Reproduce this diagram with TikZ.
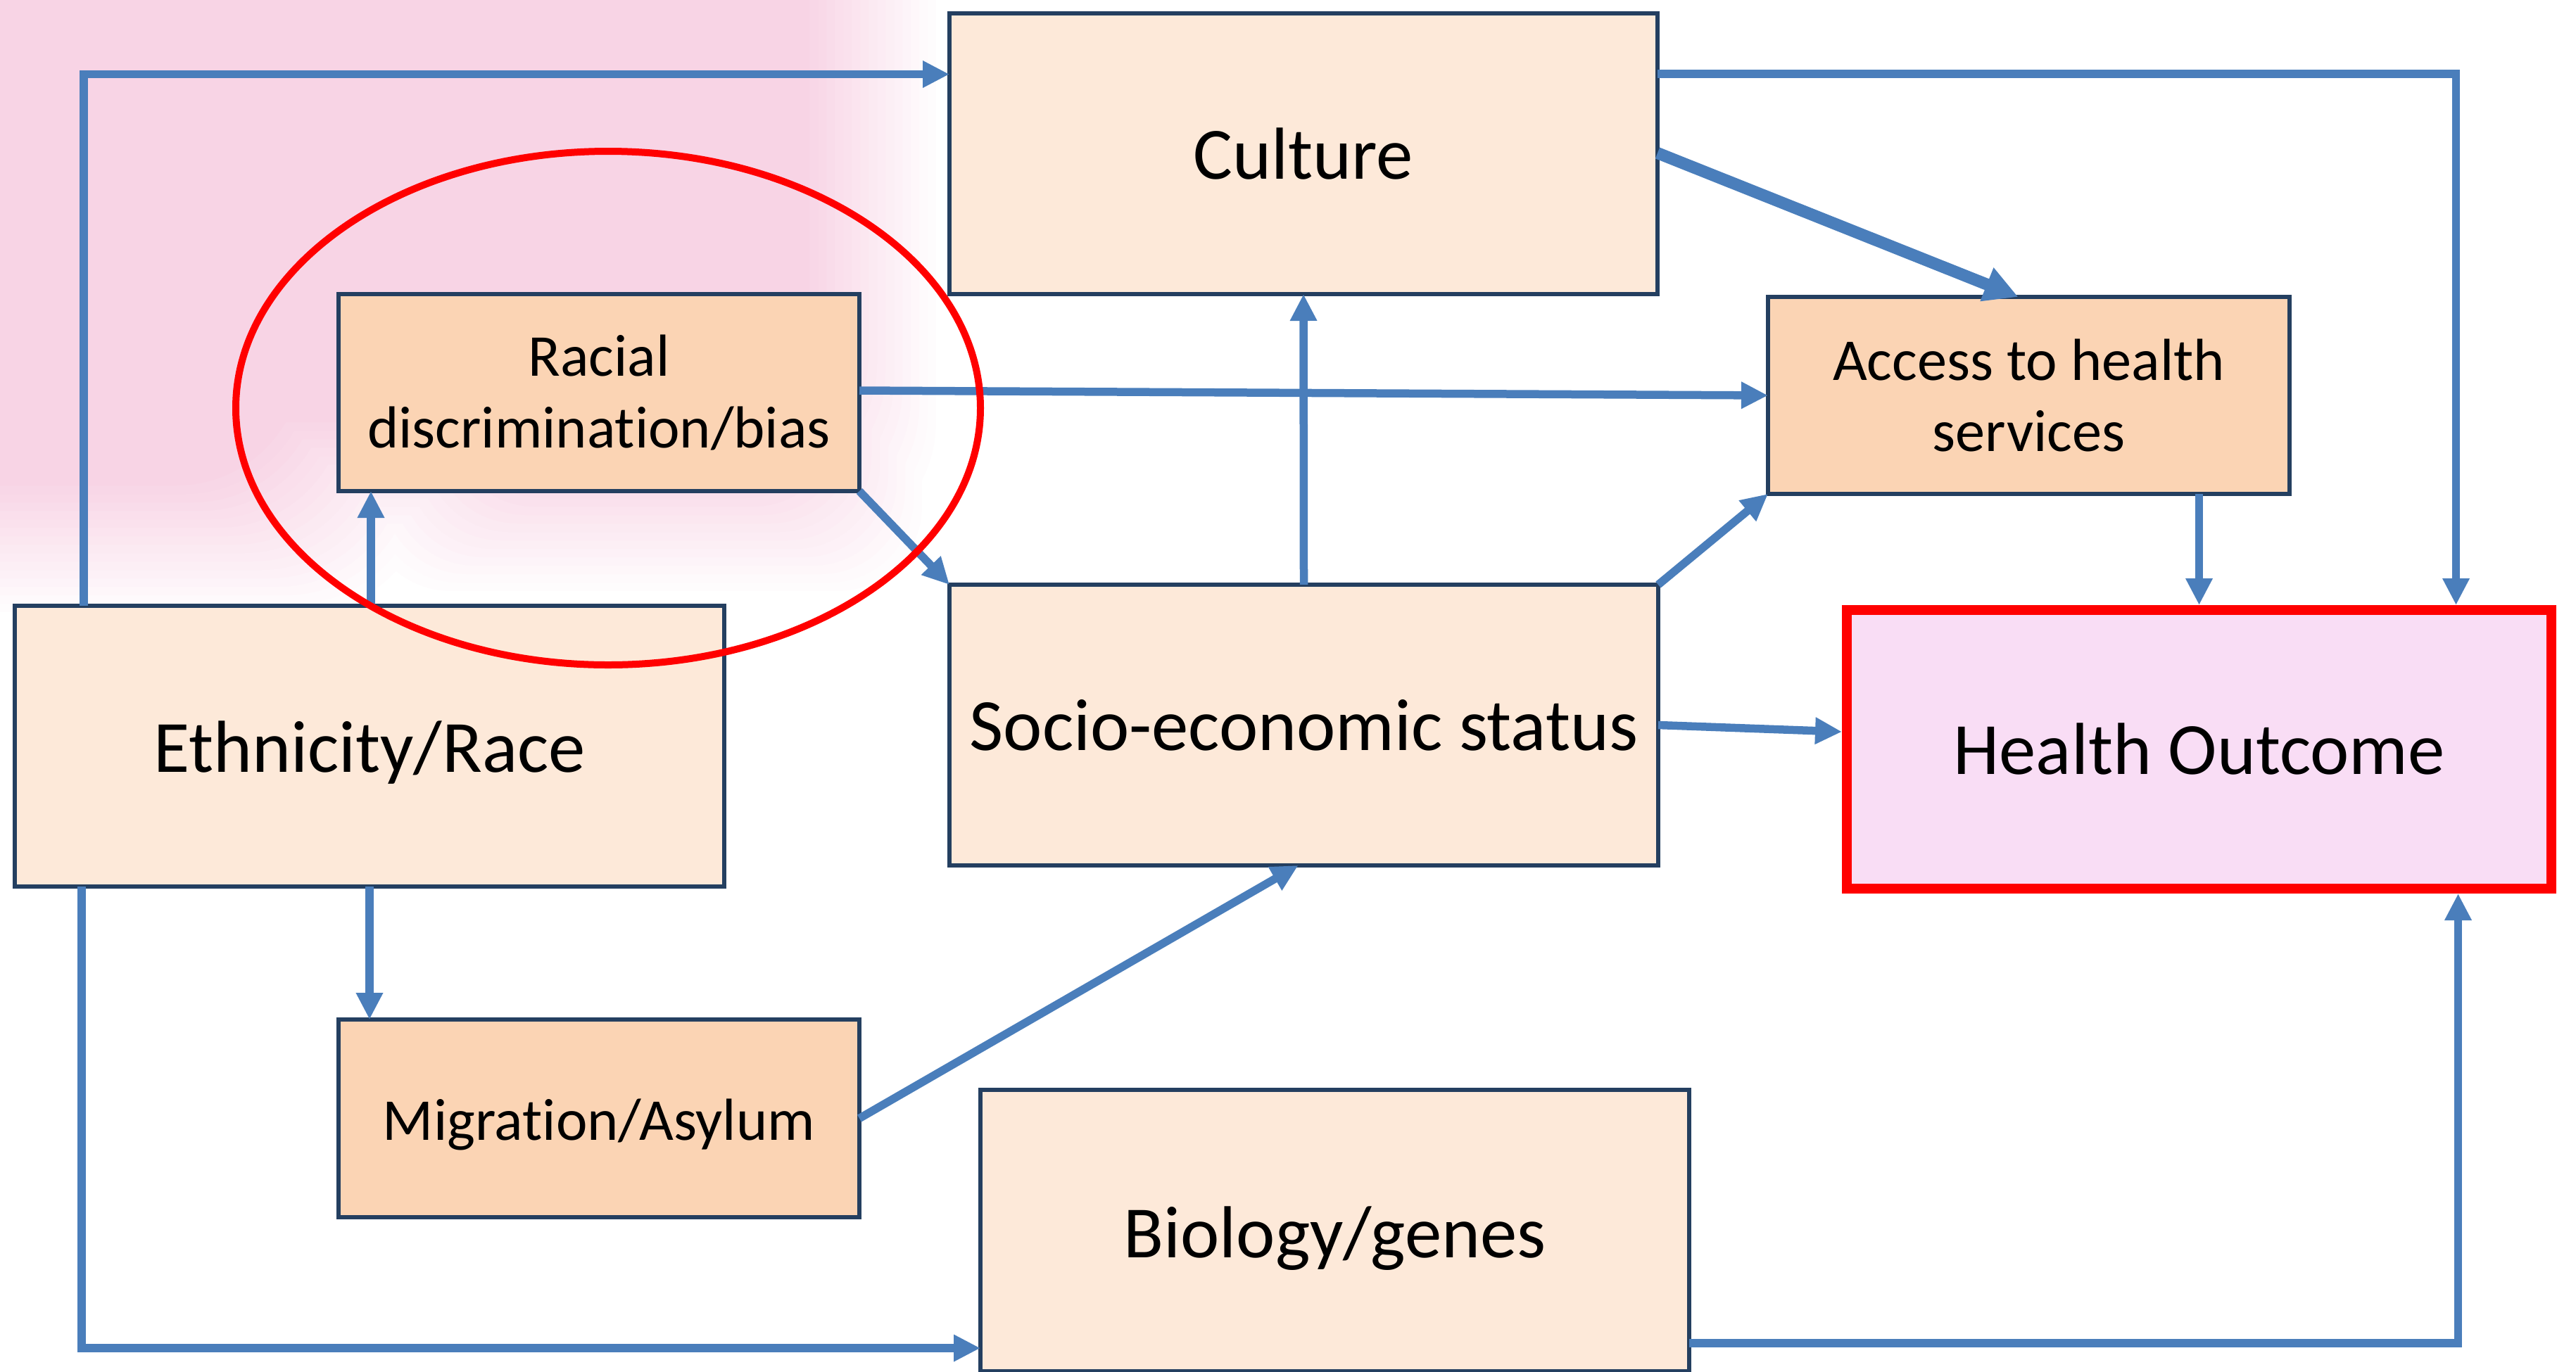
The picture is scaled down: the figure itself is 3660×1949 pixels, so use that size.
\documentclass[tikz,border=0pt]{standalone}
\usepackage{fontspec}
\setmainfont{Carlito}[Ligatures=NoCommon]
\usetikzlibrary{arrows.meta,calc,shapes.geometric}
\definecolor{boxlight}{HTML}{FDE9D9}
\definecolor{boxdark}{HTML}{FBD4B4}
\definecolor{healthfill}{HTML}{F9DDF5}
\definecolor{boxline}{HTML}{243F60}
\definecolor{arrowblue}{HTML}{4A7EBB}
\definecolor{washpink}{HTML}{F8D4E5}
\definecolor{outred}{HTML}{FF0000}
\tikzset{
  box/.style={draw=boxline, line width=0.55mm, inner sep=0pt, outer sep=0pt, align=center, text=black, font=\fontsize{29.8}{36}\selectfont},
  lightbox/.style={box, fill=boxlight},
  darkbox/.style={box, fill=boxdark, font=\fontsize{24}{29}\selectfont},
  healthbox/.style={box, fill=healthfill, draw=outred, line width=1.4mm, outer sep=0.7mm},
  arr/.style={draw=arrowblue, line width=1.15mm, -{Triangle[length=3.8mm,width=3.6mm]}},
  boldarr/.style={arr, line width=1.7mm, -{Triangle[length=4.8mm,width=4.8mm]}},
  ring/.style={ellipse, draw=outred, line width=1mm, inner sep=0pt},
}
\newcommand{\lowered}[2]{\raisebox{-#1}[\height][\depth]{#2}}
\begin{document}
\begin{tikzpicture}[x=0.1mm, y=-0.1mm]
\useasboundingbox (0,0) rectangle (3660,1949);
% watercolour wash (soft-edged, layered from pale to full tone)
\foreach \k in {1,...,16} {
  \pgfmathsetmacro\d{(16-\k)*12}
  \pgfmathsetmacro\p{\k*6.25}
  \fill[washpink!\p!white, rounded corners=18mm] (-300-\d,-300-\d) rectangle (1150+\d,600+\d);
  \fill[washpink!\p!white, rounded corners=18mm] (-300-\d,-300-\d) rectangle (430+\d,690+\d);
  \fill[washpink!\p!white, rounded corners=12mm] (700-\d,300-\d) rectangle (1130+\d,660+\d);
}
% boxes
\node[lightbox, minimum width=100.6mm, minimum height=39.9mm] (culture) at (1852,218.5) {Culture};
\node[darkbox, minimum width=74mm, minimum height=28mm] (racial) at (851,558) {Racial\\discrimination/bias};
\node[darkbox, minimum width=74.1mm, minimum height=28mm] (access) at (2882.5,562) {Access to health\\services};
\node[lightbox, minimum width=100.8mm, minimum height=39.9mm] (ethnic) at (525,1060.5) {\lowered{0.9mm}{Ethnicity/Race}};
\node[lightbox, minimum width=100.7mm, minimum height=39.9mm] (ses) at (1852.5,1030.5) {Socio-economic status};
\node[healthbox, minimum width=100.1mm, minimum height=39.6mm] (health) at (3124.5,1065) {Health Outcome};
\node[darkbox, minimum width=74mm, minimum height=28.1mm] (migration) at (851,1589.5) {\lowered{0.9mm}{Migration/Asylum}};
\node[lightbox, minimum width=100.7mm, minimum height=40mm] (biology) at (1896.5,1749) {\lowered{1.1mm}{Biology/genes}};
% connectors
\draw[arr] ($(ethnic.north west)+(98,0)$) |- ($(culture.west)+(0,-113)$);
\draw[arr] ($(ethnic.north)+(2,0)$) -- ($(ethnic.north |- racial.south)+(2,0)$);
\draw[arr] (ethnic.south) -- (ethnic.south |- migration.north);
\draw[arr] ($(ethnic.south west)+(95,0)$) |- ($(biology.west)+(0,167)$);
\draw[arr] ($(racial.east)+(0,-3)$) -- (access.west);
\draw[arr] (racial.south east) -- (ses.north west);
\draw[arr] (ses.north) -- (culture.south);
\draw[boldarr] ($(culture.east)+(0,-1)$) -- ($(access.north)+(-15,0)$);
\draw[arr] (ses.north east) -- (access.south west);
\draw[arr] ($(culture.north east)+(0,86)$) -| ($(health.north)+(365,0)$);
\draw[arr] (health.north |- access.south) -- (health.north);
\draw[arr] (ses.east) -- ($(health.west)+(0,-25)$);
\draw[arr] (migration.east) -- ($(ses.south)+(-8,0)$);
\draw[arr] ($(biology.east)+(0,160)$) -| ($(health.south)+(368,0)$);
% highlight ring
\node[ring, minimum width=105.8mm, minimum height=73mm] (ringmark) at (864,580) {};
\end{tikzpicture}
\end{document}
